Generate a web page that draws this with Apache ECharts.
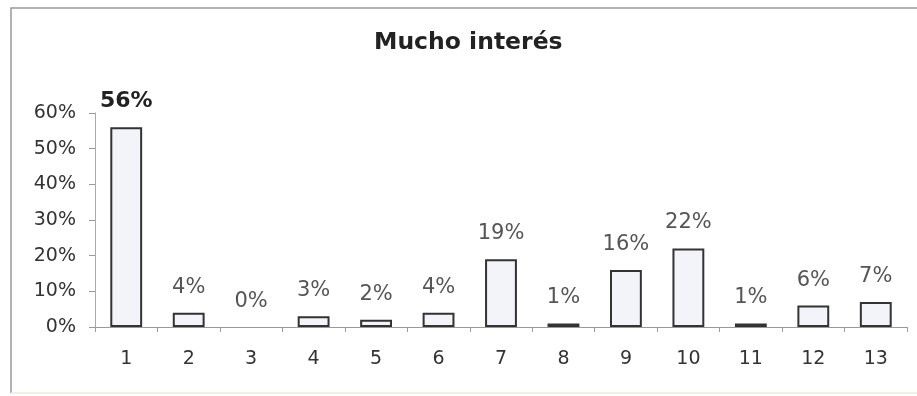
<!DOCTYPE html>
<html>
<head>
<meta charset="utf-8">
<script src="https://cdn.jsdelivr.net/npm/echarts@6/dist/echarts.min.js"></script>
<style>
  html, body { margin: 0; padding: 0; background: #fff; }
  #chart { width: 917px; height: 396px; }
</style>
</head>
<body>
<div id="chart"></div>
<script>
// Survey result: share of "Mucho interés" answers per item
const chartTitle = 'Mucho interés';
const categories = ['1', '2', '3', '4', '5', '6', '7', '8', '9', '10', '11', '12', '13'];
const values = [56, 4, 0, 3, 2, 4, 19, 1, 16, 22, 1, 6, 7];
const yTicks = { min: 0, max: 60, interval: 10 };

const FONT = 'DejaVu Sans';

const chart = echarts.init(document.getElementById('chart'));

const seriesData = values.map((v, i) => {
  const item = { value: v };
  if (v === 0) item.itemStyle = { borderWidth: 0 };
  if (i === 0) {
    item.label = { fontWeight: 'bold', fontSize: 22, color: '#222' };
  }
  return item;
});

chart.setOption({
  backgroundColor: '#fff',
  animation: false,
  title: {
    text: chartTitle,
    left: 369,
    top: 26,
    textStyle: { fontFamily: FONT, fontSize: 23.5, fontWeight: 'bold', color: '#222' }
  },
  grid: { left: 95, right: 10, top: 113, bottom: 69 },
  xAxis: {
    type: 'category',
    data: categories,
    axisLine: { lineStyle: { color: '#999', width: 1 } },
    axisTick: { show: true, length: 5, lineStyle: { color: '#999' } },
    axisLabel: { margin: 23, fontFamily: FONT, fontSize: 19, color: '#333' }
  },
  yAxis: {
    type: 'value',
    min: yTicks.min,
    max: yTicks.max,
    interval: yTicks.interval,
    splitLine: { show: false },
    axisLine: { show: true, lineStyle: { color: '#aaa', width: 1 } },
    axisTick: { show: true, length: 6, lineStyle: { color: '#999' } },
    axisLabel: { formatter: '{value}%', margin: 19, fontFamily: FONT, fontSize: 19, color: '#333' }
  },
  series: [{
    type: 'bar',
    data: seriesData,
    barWidth: '51%',
    itemStyle: { color: '#f3f3fa', borderColor: '#333', borderWidth: 2 },
    label: {
      show: true,
      position: 'top',
      distance: 15,
      formatter: '{c}%',
      fontFamily: FONT,
      fontSize: 21,
      color: '#555'
    }
  }],
  graphic: [
    {
      type: 'polyline',
      shape: { points: [[11, 393], [11, 8], [917, 8]] },
      style: { fill: 'none', stroke: '#999', lineWidth: 1.5 },
      silent: true
    },
    {
      type: 'line',
      shape: { x1: 11, y1: 393, x2: 917, y2: 393 },
      style: { stroke: '#ecebdc', lineWidth: 1.5 },
      silent: true
    }
  ]
});
</script>
</body>
</html>
